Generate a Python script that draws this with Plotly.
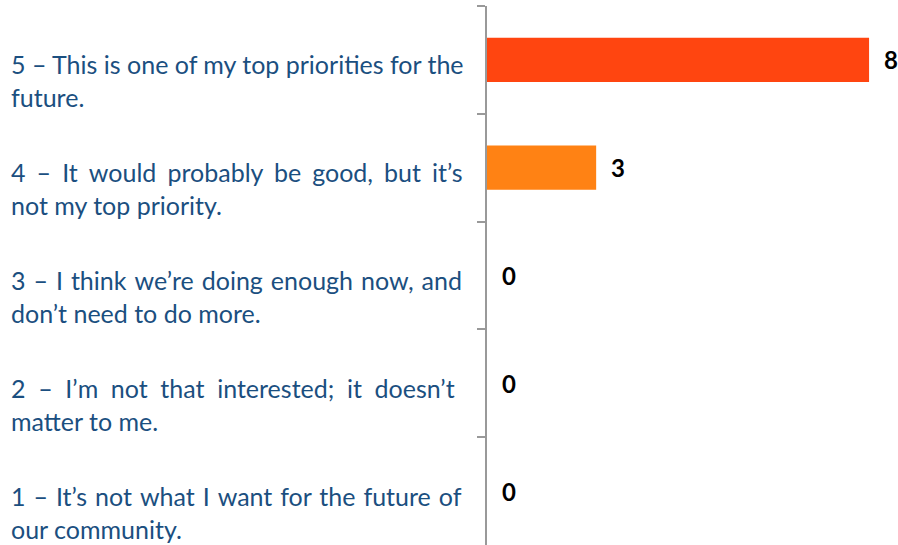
import plotly.graph_objects as go

# Survey responses: rating options (two wrapped lines each) and respondent counts
first_lines = [
    "5 – This is one of my top priorities for the",
    "4 – It would probably be good, but it’s",
    "3 – I think we’re doing enough now, and",
    "2 – I’m not that interested; it doesn’t",
    "1 – It’s not what I want for the future of",
]
second_lines = [
    "future.",
    "not my top priority.",
    "don’t need to do more.",
    "matter to me.",
    "our community.",
]
keys = ["Rating 5", "Rating 4", "Rating 3", "Rating 2", "Rating 1"]
counts = [8, 3, 0, 0, 0]
bar_colors = ["#FF4510", "#FF8214", "#FF8214", "#FF8214", "#FF8214"]

# Extra inter-word space per gap so the first lines read as justified text
gap_fill = ["", "\u2009\u200a", "\u200a", "\u2009\u200a\u200a", "\u200a"]

X_MIN, X_MAX = 1, 8.53
W, H = 898, 545
ML, MR, MT, MB = 487, 0, 6, 0
TEXT_BLUE = "#1B4F80"


def justify(line, fill):
    return (" " + fill).join(line.split(" ")) if fill else line


fig = go.Figure(
    go.Bar(
        x=counts,
        y=keys,
        orientation="h",
        marker=dict(color=bar_colors, line=dict(width=0)),
        hoverinfo="x+y",
    )
)

annotations = []
# Count labels just right of each bar end
for k, v in zip(keys, counts):
    annotations.append(dict(
        x=max(v, X_MIN), y=k, xref="x", yref="y",
        text=f"<b>{v}</b>", showarrow=False,
        xanchor="center", yanchor="middle", xshift=22,
        font=dict(family="Lato", size=24, color="#000000"),
    ))
# Option descriptions in the left margin
left_x = (9 - ML) / (W - ML - MR)
for k, l1, l2, fill in zip(keys, first_lines, second_lines, gap_fill):
    annotations.append(dict(
        x=left_x, y=k, xref="paper", yref="y",
        text=justify(l1, fill) + "<br>" + l2, showarrow=False, align="left",
        xanchor="left", yanchor="middle", yshift=-21,
        font=dict(family="Lato", size=25, color=TEXT_BLUE),
    ))

fig.update_layout(
    width=W, height=H,
    margin=dict(l=ML, r=MR, t=MT, b=MB, pad=0),
    paper_bgcolor="white", plot_bgcolor="white",
    bargap=0.59,
    showlegend=False,
    annotations=annotations,
    xaxis=dict(range=[X_MIN, X_MAX], visible=False, fixedrange=True),
    yaxis=dict(
        type="category",
        categoryorder="array", categoryarray=keys,
        range=[len(keys) - 0.5, -0.5],
        showticklabels=False,
        showgrid=False, zeroline=False,
        showline=True, linecolor="#999999", linewidth=2,
        ticks="outside", tickson="boundaries", ticklen=8,
        tickcolor="#999999", tickwidth=2,
        fixedrange=True,
    ),
)

fig.write_html("out.html")
